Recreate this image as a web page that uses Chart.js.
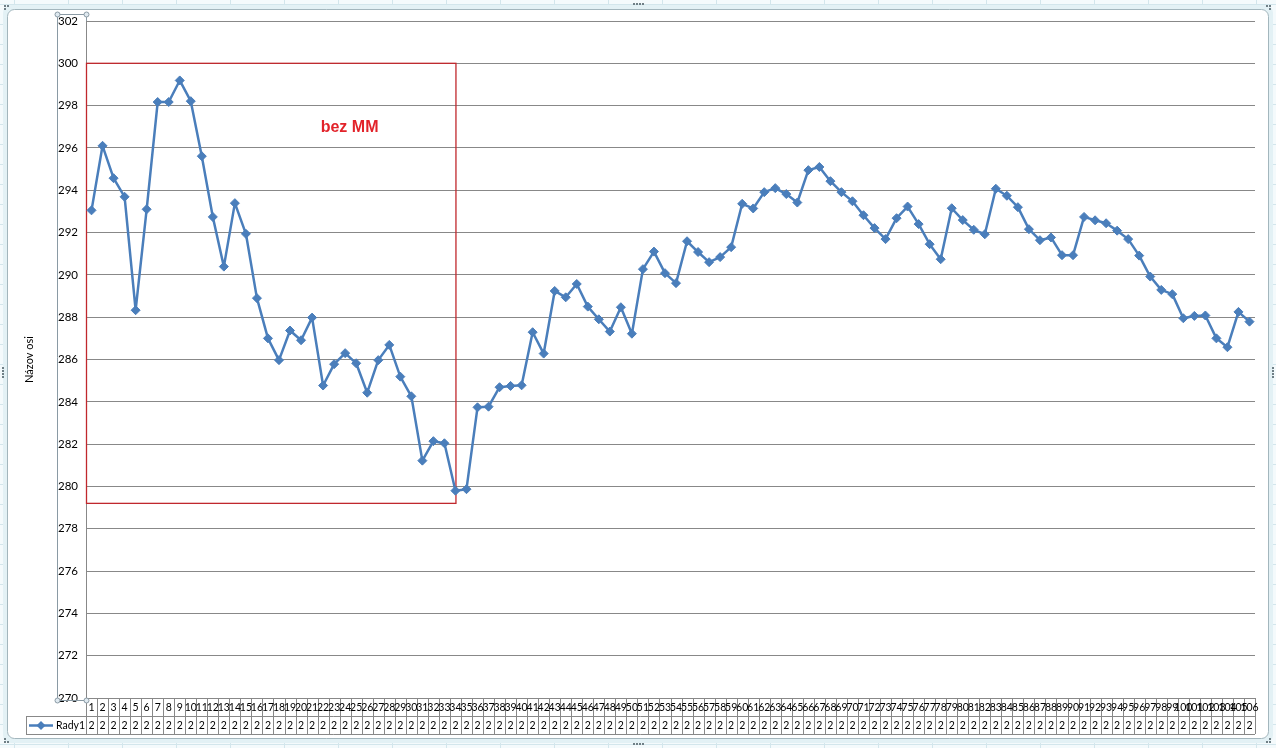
<!DOCTYPE html>
<html>
<head>
<meta charset="utf-8">
<script src="https://cdn.jsdelivr.net/npm/chart.js@4.4.1/dist/chart.umd.min.js"></script>
<style>
  html, body { margin: 0; padding: 0; overflow: hidden; background: #fff; }
  canvas { display: block; }
</style>
</head>
<body>
<canvas id="chart" width="1276" height="748"></canvas>
<script>
/* DATA */
const categories = Array.from({length: 106}, (_, i) => String(i + 1));
const rady1 = [
  293.05, 296.10, 294.57, 293.69, 288.33, 293.10, 298.17, 298.17, 299.19, 298.21,
  295.61, 292.74, 290.39, 293.39, 291.94, 288.90, 287.00, 285.97, 287.37, 286.91,
  287.98, 284.77, 285.78, 286.30, 285.82, 284.43, 285.97, 286.69, 285.19, 284.26,
  281.22, 282.14, 282.04, 279.80, 279.87, 283.74, 283.77, 284.69, 284.75, 284.78,
  287.29, 286.28, 289.24, 288.94, 289.57, 288.50, 287.90, 287.32, 288.47, 287.22,
  290.27, 291.10, 290.08, 289.61, 291.59, 291.08, 290.60, 290.84, 291.31, 293.36,
  293.14, 293.91, 294.10, 293.82, 293.42, 294.95, 295.10, 294.43, 293.91, 293.48,
  292.82, 292.21, 291.69, 292.68, 293.23, 292.40, 291.45, 290.74, 293.15, 292.59,
  292.13, 291.92, 294.07, 293.74, 293.20, 292.16, 291.64, 291.77, 290.93, 290.93,
  292.74, 292.58, 292.44, 292.09, 291.69, 290.91, 289.92, 289.29, 289.09, 287.95,
  288.06, 288.08, 287.00, 286.58, 288.25, 287.79,
];
const yMin = 270;
const yMax = 302;
const yStep = 2;
const seriesName = 'Rady1';
const axisTitle = 'Názov osi';
const noteText = 'bez MM';

const FONT = "Lato, 'Noto Sans', sans-serif";
const BLUE = '#4a7ebb';
const GRID = '#888888';

/* FRAME, AXIS BOX, NOTE AND DATA TABLE */
const excelBits = {
  id: 'excelBits',
  beforeDraw(chart) {
    const {ctx, width, height} = chart;
    ctx.save();
    // spreadsheet behind the chart object
    ctx.fillStyle = '#f4fafc';
    ctx.fillRect(0, 0, width, height);
    ctx.strokeStyle = '#d3e6ec';
    ctx.lineWidth = 1;
    ctx.beginPath();
    for (let x = 14; x < width; x += 54) { ctx.moveTo(x + 0.5, 0); ctx.lineTo(x + 0.5, height); }
    for (let y = 4; y < height; y += 20) { ctx.moveTo(0, y + 0.5); ctx.lineTo(width, y + 0.5); }
    ctx.stroke();
    // chart object
    ctx.fillStyle = '#e3f1f5';
    ctx.beginPath();
    ctx.roundRect(3, 5, width - 6, height - 10, 8);
    ctx.fill();
    ctx.fillStyle = '#ffffff';
    ctx.strokeStyle = '#a3b6bd';
    ctx.beginPath();
    ctx.roundRect(7.5, 9.5, width - 15, height - 19, 7);
    ctx.fill();
    ctx.stroke();
    // grip dots
    ctx.fillStyle = '#6f7f86';
    const dotsH = (x, y) => { for (let i = 0; i < 4; i++) ctx.fillRect(x + i * 3, y, 2, 2); };
    const dotsV = (x, y) => { for (let i = 0; i < 4; i++) ctx.fillRect(x, y + i * 3, 2, 2); };
    dotsH(633, 3); dotsH(633, 743); dotsV(2, 367); dotsV(1272, 367);
    ctx.fillRect(4, 5, 2, 2); ctx.fillRect(7, 5, 2, 2); ctx.fillRect(4, 8, 2, 2);
    ctx.fillRect(1266, 5, 2, 2); ctx.fillRect(1269, 5, 2, 2); ctx.fillRect(1269, 8, 2, 2);
    ctx.fillRect(4, 741, 2, 2); ctx.fillRect(7, 741, 2, 2); ctx.fillRect(4, 738, 2, 2);
    ctx.fillRect(1266, 741, 2, 2); ctx.fillRect(1269, 741, 2, 2); ctx.fillRect(1269, 738, 2, 2);
    ctx.restore();
  },
  beforeDatasetsDraw(chart) {
    const {ctx, chartArea: a, scales: {x, y}} = chart;
    ctx.save();
    // red box round the first part of the series
    const right = x.getPixelForValue(33);
    const top = y.getPixelForValue(300);
    const bottom = y.getPixelForValue(279.2);
    ctx.strokeStyle = '#c0282d';
    ctx.lineWidth = 1.3;
    ctx.strokeRect(a.left + 0.5, top, right - a.left, bottom - top);
    ctx.fillStyle = '#e2232a';
    ctx.font = "bold 16px 'Liberation Sans', Arial, sans-serif";
    ctx.textAlign = 'center';
    ctx.textBaseline = 'middle';
    ctx.fillText(noteText, x.getPixelForValue(23.4), y.getPixelForValue(296.95));
    ctx.restore();
  },
  afterDraw(chart) {
    const {ctx, chartArea: a, scales: {x}} = chart;
    const cell = (a.right - a.left) / categories.length;
    const r1 = Math.round(a.bottom), r2 = r1 + 18, r3 = r1 + 36;
    ctx.save();
    ctx.strokeStyle = GRID;
    ctx.lineWidth = 1;
    ctx.beginPath();
    ctx.moveTo(a.left, r1 + 0.5); ctx.lineTo(a.right, r1 + 0.5);
    ctx.moveTo(26, r2 + 0.5); ctx.lineTo(a.right, r2 + 0.5);
    ctx.moveTo(26, r3 + 0.5); ctx.lineTo(a.right, r3 + 0.5);
    ctx.moveTo(26.5, r2); ctx.lineTo(26.5, r3);
    for (let i = 0; i <= categories.length; i++) {
      const px = Math.round(a.left + i * cell) + 0.5;
      ctx.moveTo(px, r1); ctx.lineTo(px, r3);
    }
    ctx.stroke();

    ctx.fillStyle = '#000';
    ctx.font = '10.5px ' + FONT;
    ctx.textAlign = 'center';
    ctx.textBaseline = 'middle';
    categories.forEach((c, i) => {
      const cx = x.getPixelForValue(i);
      ctx.fillText(c, cx, r1 + 9.5);
      ctx.fillText(String(Math.round(rady1[i])).charAt(0), cx, r2 + 9.5);
    });

    // legend key in the table
    const ly = r2 + 9.5;
    ctx.strokeStyle = BLUE;
    ctx.lineWidth = 2.5;
    ctx.beginPath(); ctx.moveTo(29, ly); ctx.lineTo(53, ly); ctx.stroke();
    ctx.fillStyle = BLUE;
    ctx.beginPath();
    ctx.moveTo(41, ly - 4.5); ctx.lineTo(45.5, ly); ctx.lineTo(41, ly + 4.5); ctx.lineTo(36.5, ly);
    ctx.closePath(); ctx.fill();
    ctx.fillStyle = '#000';
    ctx.textAlign = 'left';
    ctx.fillText(seriesName, 56, ly);

    // selected value axis box with handles
    ctx.strokeStyle = '#8a9aa4';
    ctx.lineWidth = 1;
    ctx.beginPath();
    ctx.moveTo(57.5, 14.5); ctx.lineTo(a.left + 0.5, 14.5); ctx.lineTo(a.left + 0.5, a.top);
    ctx.moveTo(57.5, 14.5); ctx.lineTo(57.5, r1 + 2.5); ctx.lineTo(a.left, r1 + 2.5);
    ctx.stroke();
    ctx.fillStyle = '#dfe9f0';
    [[57.5, 14.5], [a.left + 0.5, 14.5], [57.5, r1 + 2.5], [a.left + 0.5, r1 + 2.5]].forEach(([hx, hy]) => {
      ctx.beginPath(); ctx.arc(hx, hy, 2.5, 0, Math.PI * 2); ctx.fill(); ctx.stroke();
    });
    ctx.restore();
  },
};

/* LINE CHART */
new Chart(document.getElementById('chart'), {
  type: 'line',
  data: {
    labels: categories,
    datasets: [
      {
        label: seriesName,
        data: rady1,
        borderColor: BLUE,
        backgroundColor: BLUE,
        borderWidth: 2.5,
        borderJoinStyle: 'round',
        tension: 0,
        pointStyle: 'rectRot',
        pointRadius: 4.5,
        pointBorderWidth: 1,
        pointBackgroundColor: BLUE,
        pointBorderColor: BLUE,
      },
    ],
  },
  options: {
    responsive: false,
    animation: false,
    events: [],
    layout: {padding: {left: 23, right: 21, top: 21, bottom: 50}},
    plugins: {legend: {display: false}, tooltip: {enabled: false}},
    scales: {
      x: {
        type: 'category',
        offset: true,
        grid: {display: false, drawTicks: false},
        border: {display: false},
        ticks: {display: false},
        afterFit: (s) => { s.height = 0; },
      },
      y: {
        min: yMin,
        max: yMax,
        ticks: {stepSize: yStep, padding: 8, color: '#000', font: {family: FONT, size: 11.5}},
        grid: {color: GRID, lineWidth: 1, drawTicks: false},
        border: {display: true, color: GRID, width: 1},
        title: {display: true, text: axisTitle, color: '#000', padding: 0, font: {family: FONT, size: 11}},
        afterFit: (s) => { s.width = 63; },
      },
    },
  },
  plugins: [excelBits],
});
</script>
</body>
</html>
